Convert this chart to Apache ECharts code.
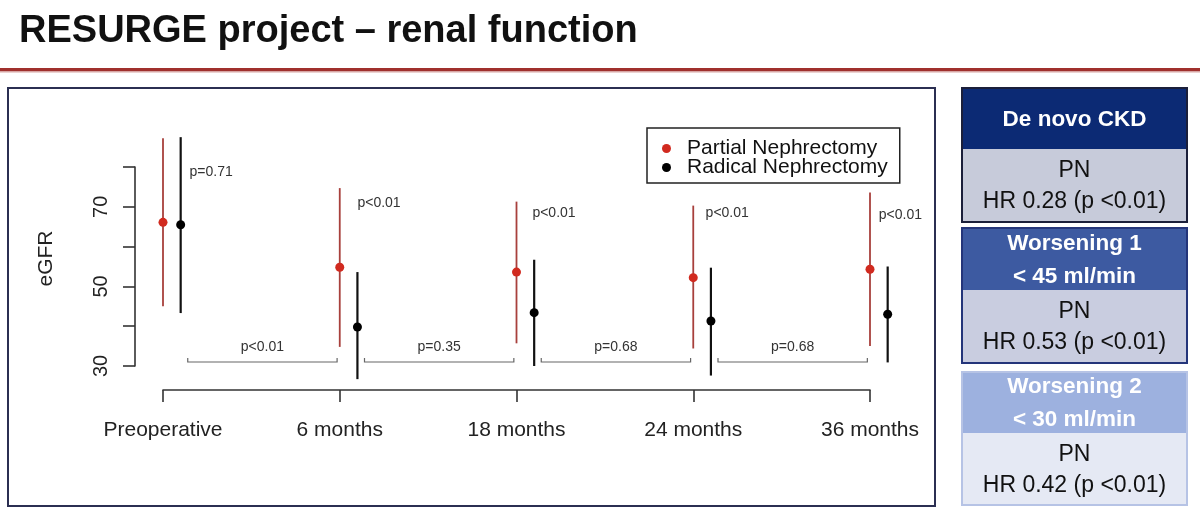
<!DOCTYPE html>
<html><head><meta charset="utf-8">
<script src="https://cdn.jsdelivr.net/npm/echarts@6/dist/echarts.min.js"></script>
<style>html,body{margin:0;padding:0;background:#fff}#c{width:1200px;height:516px}</style>
</head><body><div id="c"></div>
<script>
const categories = ['Preoperative', '6 months', '18 months', '24 months', '36 months'];
const pnMean = [66.1, 54.8, 53.6, 52.2, 54.3];
const pnLow  = [45.0, 34.8, 35.7, 34.4, 35.0];
const pnHigh = [87.2, 74.7, 71.3, 70.3, 73.6];
const rnMean = [65.5, 39.8, 43.4, 41.3, 43.0];
const rnLow  = [43.3, 26.7, 30.0, 27.6, 30.9];
const rnHigh = [87.5, 53.6, 56.7, 54.7, 55.0];
const yTickLabels = [30, 50, 70];
const pWithin = ['p=0.71', 'p<0.01', 'p<0.01', 'p<0.01', 'p<0.01'];
const pWithinAt = [[0.15, 78.7], [1.1, 71.0], [2.09, 68.3], [3.07, 68.3], [4.05, 67.8]];
const pBetween = ['p<0.01', 'p=0.35', 'p=0.68', 'p=0.68'];
const bracketLevel = 31;
const panelHeaders = [['De novo CKD'], ['Worsening 1', '< 45 ml/min'], ['Worsening 2', '< 30 ml/min']];
const panelBody = [['PN', 'HR 0.28 (p <0.01)'], ['PN', 'HR 0.53 (p <0.01)'], ['PN', 'HR 0.42 (p <0.01)']];

const FONT = '"Liberation Sans", Arial, Helvetica, sans-serif';
const RED = '#d12a1f', RED_LINE = '#a8403c', BLACK = '#000';
const RN_OFFSET = 0.1;

function errRender(dotColor, lineColor, lineW, offset) {
  return function (params, api) {
    const x = api.value(0) + offset;
    const lo = api.coord([x, api.value(1)]);
    const mid = api.coord([x, api.value(2)]);
    const hi = api.coord([x, api.value(3)]);
    return {
      type: 'group',
      children: [
        { type: 'line', shape: { x1: lo[0], y1: lo[1], x2: hi[0], y2: hi[1] }, style: { stroke: lineColor, lineWidth: lineW } },
        { type: 'circle', shape: { cx: mid[0], cy: mid[1], r: 4.5 }, style: { fill: dotColor } }
      ]
    };
  };
}

const chart = echarts.init(document.getElementById('c'), null, { renderer: 'canvas' });

// right panel graphics
const boxes = [
  { top: 88, mid: 149, bot: 222, head: '#0c2a74', body: '#c7cbda', border: '#1b1f3a' },
  { top: 228, mid: 290, bot: 363, head: '#3d5aa1', body: '#c9cde0', border: '#24357a' },
  { top: 372, mid: 433, bot: 505, head: '#9db1df', body: '#e5e9f4', border: '#b6c3e5' }
];
const panel = [];
const bx = 962, bw = 225, cx = bx + bw / 2;
boxes.forEach((b, k) => {
  panel.push({ type: 'rect', shape: { x: bx, y: b.top, width: bw, height: b.mid - b.top }, style: { fill: b.head } });
  panel.push({ type: 'rect', shape: { x: bx, y: b.mid, width: bw, height: b.bot - b.mid }, style: { fill: b.body } });
  panel.push({ type: 'rect', shape: { x: bx, y: b.top, width: bw, height: b.bot - b.top }, style: { fill: 'none', stroke: b.border, lineWidth: 2 } });
  const hd = panelHeaders[k];
  const hc = (b.top + b.mid) / 2;
  hd.forEach((t, j) => {
    const y = hd.length === 1 ? hc : hc + (j - 0.5) * 33;
    panel.push({ type: 'text', x: cx, y: y + 1, style: { text: t, font: 'bold 22.5px ' + FONT, fill: '#fff', align: 'center', verticalAlign: 'middle' } });
  });
  const bc = (b.mid + b.bot) / 2;
  panelBody[k].forEach((t, j) => {
    panel.push({ type: 'text', x: cx, y: bc + (j - 0.5) * 31 + 1, style: { text: t, font: '23px ' + FONT, fill: '#111', align: 'center', verticalAlign: 'middle' } });
  });
});

const option = {
  animation: false,
  backgroundColor: '#fff',
  textStyle: { fontFamily: FONT },
  graphic: [
    { type: 'text', x: 19, y: 32, style: { text: 'RESURGE project – renal function', font: 'bold 38px ' + FONT, fill: '#111', verticalAlign: 'middle' } },
    { type: 'rect', shape: { x: 0, y: 68, width: 1200, height: 3 }, style: { fill: '#a0302d' } },
    { type: 'rect', shape: { x: 0, y: 71, width: 1200, height: 1.5 }, style: { fill: '#d7a6a4' } },
    { type: 'rect', shape: { x: 8, y: 88, width: 927, height: 418 }, style: { fill: 'none', stroke: '#2b2f52', lineWidth: 2 } },
    ...panel
  ],
  legend: {
    left: 647, top: 128, orient: 'vertical',
    padding: [10, 12, 5, 15],
    borderColor: '#222', borderWidth: 1.5, borderRadius: 0,
    itemGap: -2, itemWidth: 9, itemHeight: 9, icon: 'circle',
    textStyle: { fontSize: 21, color: '#111', fontFamily: FONT, lineHeight: 17, padding: [0, 0, 0, 11] },
    data: ['Partial Nephrectomy', 'Radical Nephrectomy'],
    selectedMode: false
  },
  grid: { left: 163, right: 330, top: 167, bottom: 150 },
  xAxis: {
    type: 'value', min: 0, max: 4, interval: 1, offset: 24,
    axisLine: { show: true, onZero: false, lineStyle: { color: '#333', width: 1.6 } },
    axisTick: { show: true, length: 12, lineStyle: { color: '#333', width: 1.6 } },
    axisLabel: { formatter: v => categories[v] || '', fontSize: 21, color: '#222', margin: 30, fontFamily: FONT },
    splitLine: { show: false }
  },
  yAxis: {
    type: 'value', min: 30, max: 80, interval: 10, offset: 28,
    name: 'eGFR', nameLocation: 'middle', nameRotate: 90, nameGap: 78,
    nameTextStyle: { fontSize: 21, color: '#222', fontFamily: FONT, padding: [0, 0, 0, 16] },
    axisLine: { show: true, onZero: false, lineStyle: { color: '#333', width: 1.6 } },
    axisTick: { show: true, length: 12, lineStyle: { color: '#333', width: 1.6 } },
    axisLabel: { rotate: 90, fontSize: 20, color: '#222', margin: 24, fontFamily: FONT,
      formatter: v => yTickLabels.includes(v) ? String(v) : '' },
    splitLine: { show: false }
  },
  series: [
    {
      name: 'Partial Nephrectomy', type: 'custom', clip: false,
      itemStyle: { color: RED },
      renderItem: errRender(RED, RED_LINE, 1.8, 0),
      encode: { x: 0, y: [1, 2, 3] },
      data: pnMean.map((m, i) => [i, pnLow[i], m, pnHigh[i]])
    },
    {
      name: 'Radical Nephrectomy', type: 'custom', clip: false,
      itemStyle: { color: BLACK },
      renderItem: errRender(BLACK, '#111', 2.2, RN_OFFSET),
      encode: { x: 0, y: [1, 2, 3] },
      data: rnMean.map((m, i) => [i, rnLow[i], m, rnHigh[i]])
    },
    {
      name: 'between', type: 'custom', clip: false, silent: true,
      renderItem: function (params, api) {
        const i = api.value(0);
        const a = api.coord([i + 0.14, bracketLevel]);
        const b = api.coord([i + 0.985, bracketLevel]);
        return {
          type: 'group',
          children: [
            { type: 'polyline', shape: { points: [[a[0], a[1] - 4], [a[0], a[1]], [b[0], b[1]], [b[0], b[1] - 4]] }, style: { stroke: '#666', lineWidth: 1.2, fill: 'none' } },
            { type: 'text', x: (a[0] + b[0]) / 2, y: a[1] - 15, style: { text: pBetween[i], font: '14px ' + FONT, fill: '#333', align: 'center', verticalAlign: 'middle' } }
          ]
        };
      },
      data: pBetween.map((p, i) => [i])
    },
    {
      name: 'within', type: 'custom', clip: false, silent: true,
      renderItem: function (params, api) {
        const i = params.dataIndex;
        const p = api.coord([api.value(0), api.value(1)]);
        return { type: 'text', x: p[0], y: p[1], style: { text: pWithin[i], font: '14px ' + FONT, fill: '#333', align: 'left', verticalAlign: 'middle' } };
      },
      data: pWithinAt
    }
  ]
};
chart.setOption(option);
</script>
</body></html>
